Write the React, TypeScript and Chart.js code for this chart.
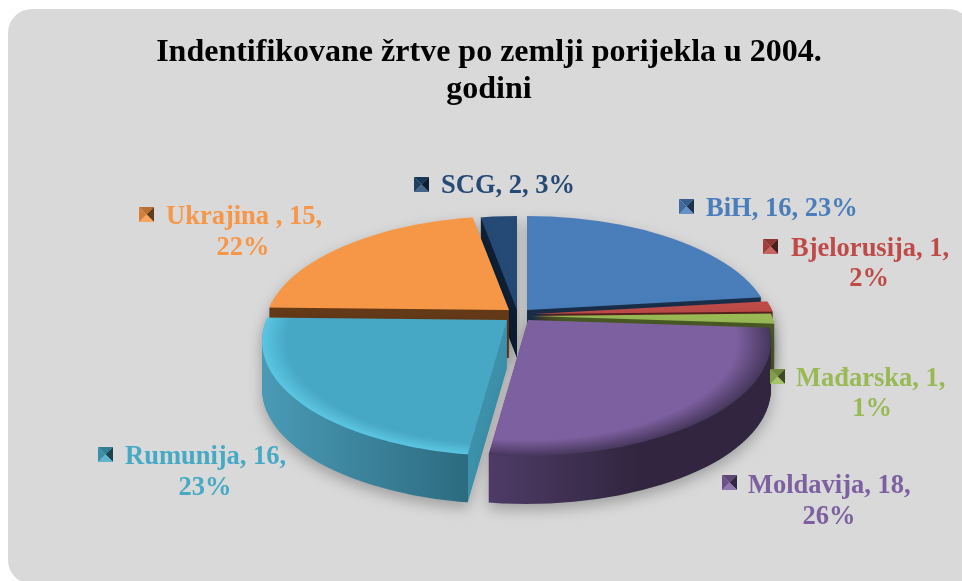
import React, { useEffect, useRef } from "react";
import { Chart, registerables } from "chart.js";

Chart.register(...registerables);

const categories = ["BiH", "Bjelorusija", "Mađarska", "Moldavija", "Rumunija", "Ukrajina ", "SCG"];
const victims = [16, 1, 1, 18, 16, 15, 2];
const percents = ["23%", "2%", "1%", "26%", "23%", "22%", "3%"];
const titleLines = ["Indentifikovane žrtve po zemlji porijekla u 2004.", "godini"];

const topColors = ["#4a7ebb", "#be4b48", "#98b954", "#7d60a0", "#46a8c4", "#f59746", "#254a75"];
const rimColors = ["#4375ad", "#c45552", "#a5c963", "#46375c", "#5cc6e2", "#f59746", "#254a75"];
const wallLeft = ["#1a2f4a", "#5a2221", "#4a5a25", "#4d3b66", "#4a9ab6", "#653a18", "#0f2036"];
const wallRight = ["#1a2f4a", "#5a2221", "#4a5a25", "#31253f", "#2c6b80", "#653a18", "#0f2036"];
const cutFace = ["#1a2f4a", "#5a2221", "#4a5a25", "#31253f", "#3c90aa", "#653a18", "#0f2036"];
const labelColors = ["#4a7ebb", "#be4b48", "#98b954", "#7d60a0", "#46aac5", "#f79646", "#254a75"];

// projected view of the pie: each exploded slice has an apex, and the disc is an ellipse
// whose centre sits a little below the apex because of the perspective.
const apexes = [
  { x: 527, y: 310, discX: 527 },
  { x: 533, y: 314, discX: 533 },
  { x: 531, y: 316, discX: 531 },
  { x: 528, y: 320, discX: 526 },
  { x: 507, y: 320, discX: 507 },
  { x: 509, y: 310, discX: 509 },
  { x: 517, y: 310, discX: 517 },
];
const DISC_RX = 245;
const DISC_RY = 115;
const APEX_DROP = 21;
const WALL = 48;
const OVERSCAN = 1.3;
const wallSpan = [[0, 1], [0, 1], [0, 1], [491, 640], [262, 467], [0, 1], [0, 1]];
const drawOrder = [6, 5, 0, 1, 2, 4, 3];
const rimInner = [1, 1, 1, 0.86, 0.9, 1, 1];

// data label layout
const labelBoxes = [
  { mx: 679, my: 199, tx: 706, y: 209, cx: 0, y2: 0 },
  { mx: 763, my: 239, tx: 791, y: 249, cx: 869, y2: 279 },
  { mx: 770, my: 369, tx: 796, y: 379, cx: 872, y2: 409 },
  { mx: 722, my: 475, tx: 748, y: 486, cx: 829, y2: 517 },
  { mx: 98, my: 447, tx: 125, y: 457, cx: 205, y2: 488 },
  { mx: 139, my: 207, tx: 166, y: 217, cx: 243, y2: 248 },
  { mx: 414, my: 177, tx: 441, y: 186, cx: 0, y2: 0 },
];

const FONT_FAMILY = '"Liberation Serif", serif';

const panelPlugin = {
  id: "panel",
  beforeDraw(chart: any) {
    const ctx = chart.ctx;
    ctx.save();
    ctx.fillStyle = "#ffffff";
    ctx.fillRect(0, 0, chart.width, chart.height);
    ctx.fillStyle = "#d9d9d9";
    ctx.beginPath();
    ctx.roundRect(8, 9, 964, 575, [24, 24, 0, 24]);
    ctx.fill();
    ctx.restore();
  },
};

function withBackground(el: any, fill: any, fn: () => void) {
  const saved = el.options;
  const o = Object.create(saved);
  o.backgroundColor = fill;
  el.options = o;
  fn();
  el.options = saved;
}

const pie3dPlugin = {
  id: "pie3d",
  beforeDatasetDraw(chart: any, args: any) {
    const main = chart.ctx;
    const arcs = args.meta.data;
    for (const i of drawOrder) {
      const el = arcs[i];
      const a = apexes[i];
      const R = el.outerRadius;
      const sx = (OVERSCAN * DISC_RX) / R;
      const sy = (OVERSCAN * DISC_RY) / R;
      const ex = a.discX;
      const ey = a.y + APEX_DROP;
      const toUserX = (px: number) => el.x + (px - a.x) / sx;

      const layer = document.createElement("canvas");
      layer.width = chart.width;
      layer.height = chart.height;
      const ctx = layer.getContext("2d") as CanvasRenderingContext2D;

      const withPlacement = (dy: number, fn: () => void) => {
        ctx.save();
        ctx.beginPath();
        ctx.ellipse(ex, ey + dy, DISC_RX, DISC_RY, 0, 0, Math.PI * 2);
        ctx.clip();
        ctx.translate(a.x, a.y + dy);
        ctx.scale(sx, sy);
        ctx.translate(-el.x, -el.y);
        fn();
        ctx.restore();
      };

      // where the slice's opening edge meets the disc rim, in page x
      let cutX = a.x;
      const edge = el.startAngle;
      for (let t = 0; t < 400; t++) {
        const px = a.x + Math.cos(edge) * t * (DISC_RX / 200);
        const py = a.y + Math.sin(edge) * t * (DISC_RY / 200);
        const q = ((px - ex) / DISC_RX) ** 2 + ((py - ey) / DISC_RY) ** 2;
        if (q > 1) break;
        cutX = px;
      }

      // side wall, built from the arc repeated downwards
      const [w0, w1] = wallSpan[i];
      const wall = ctx.createLinearGradient(toUserX(w0), 0, toUserX(i === 4 ? cutX + 1 : w1), 0);
      wall.addColorStop(0, wallLeft[i]);
      if (i === 4) {
        wall.addColorStop(0.998, wallRight[i]);
        wall.addColorStop(0.999, cutFace[i]);
        wall.addColorStop(1, cutFace[i]);
      } else {
        wall.addColorStop(1, wallRight[i]);
      }
      for (let d = WALL; d >= 1; d--) {
        withPlacement(d, () => withBackground(el, wall, () => el.draw(ctx)));
      }

      // top face with a bevelled rim that follows the disc ellipse
      withPlacement(0, () => {
        const cx = el.x + (ex - a.x) / sx;
        const cy = el.y + (ey - a.y) / sy;
        const rad = R / OVERSCAN;
        const top = ctx.createRadialGradient(cx, cy, 0, cx, cy, rad);
        top.addColorStop(0, topColors[i]);
        top.addColorStop(rimInner[i], topColors[i]);
        top.addColorStop(1, rimColors[i]);
        withBackground(el, top, () => el.draw(ctx));
      });

      main.save();
      main.shadowColor = "rgba(0,0,0,0.26)";
      main.shadowBlur = 14;
      main.shadowOffsetY = 6;
      main.drawImage(layer, 0, 0);
      main.restore();
    }
    return false;
  },
};

function drawMarker(ctx: any, x: number, y: number, color: string) {
  const s = 15;
  const cx = x + s / 2;
  const cy = y + s / 2;
  const tri = (ax: number, ay: number, bx: number, by: number, fill: string, alpha: number) => {
    ctx.beginPath();
    ctx.moveTo(ax, ay);
    ctx.lineTo(bx, by);
    ctx.lineTo(cx, cy);
    ctx.closePath();
    ctx.fillStyle = color;
    ctx.fill();
    ctx.globalAlpha = alpha;
    ctx.fillStyle = fill;
    ctx.fill();
    ctx.globalAlpha = 1;
  };
  tri(x, y, x + s, y, "#000000", 0.25);
  tri(x + s, y, x + s, y + s, "#000000", 0.6);
  tri(x, y + s, x + s, y + s, "#ffffff", 0.15);
  tri(x, y, x, y + s, "#000000", 0.15);
}

const labelsPlugin = {
  id: "sliceLabels",
  afterDatasetsDraw(chart: any) {
    const ctx = chart.ctx;
    ctx.save();
    ctx.font = `bold 26.5px ${FONT_FAMILY}`;
    ctx.textBaseline = "middle";
    categories.forEach((name, i) => {
      const b = labelBoxes[i];
      drawMarker(ctx, b.mx, b.my, labelColors[i]);
      ctx.fillStyle = labelColors[i];
      ctx.textAlign = "left";
      if (b.y2) {
        ctx.fillText(`${name}, ${victims[i]},`, b.tx, b.y);
        ctx.textAlign = "center";
        ctx.fillText(percents[i], b.cx, b.y2);
      } else {
        ctx.fillText(`${name}, ${victims[i]}, ${percents[i]}`, b.tx, b.y);
      }
    });
    ctx.restore();
  },
};

export default function App() {
  const ref = useRef<HTMLCanvasElement | null>(null);
  useEffect(() => {
    if (!ref.current) return;
    const chart = new Chart(ref.current, {
      type: "pie",
      data: {
        labels: categories,
        datasets: [{ data: victims, backgroundColor: topColors, borderWidth: 0 }],
      },
      options: {
        responsive: false,
        animation: false,
        layout: { padding: { left: 16, top: 34 } },
        plugins: {
          legend: { display: false },
          tooltip: { enabled: false },
          title: {
            display: true,
            text: titleLines,
            color: "#000000",
            font: { family: FONT_FAMILY, size: 32, weight: "bold", lineHeight: 1.13 },
            padding: { top: 1, bottom: 10 },
          },
        },
      },
      plugins: [panelPlugin, pie3dPlugin, labelsPlugin],
    } as any);
    return () => chart.destroy();
  }, []);
  return (
    <canvas
      ref={ref}
      width={962}
      height={581}
      style={{ position: "absolute", left: 0, top: 0, display: "block", width: 962, height: 581, filter: "blur(0.4px)" }}
    />
  );
}
